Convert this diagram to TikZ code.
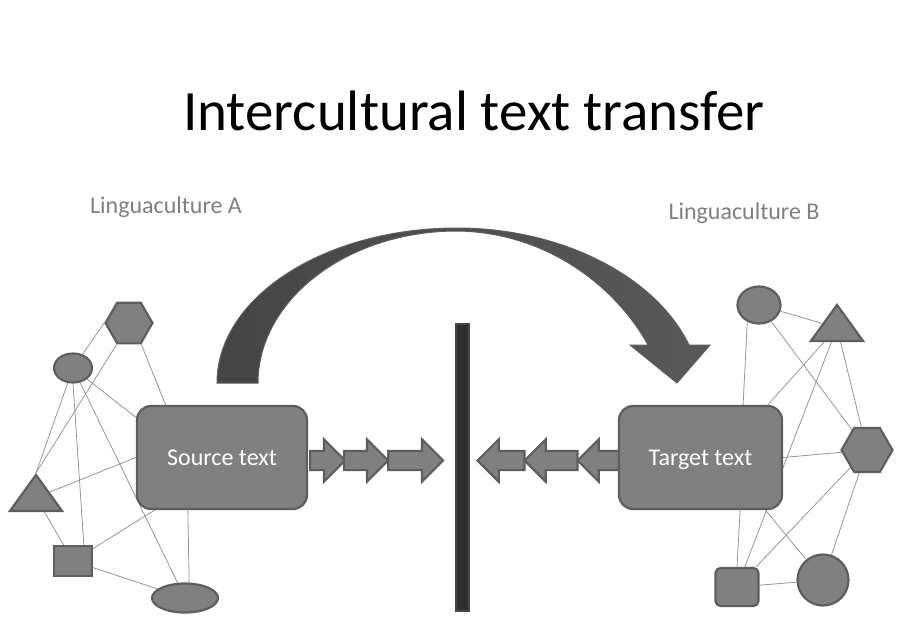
\documentclass[tikz,border=0pt]{standalone}
\usepackage{fontspec}
\setmainfont{Carlito}
\usetikzlibrary{positioning, shapes.geometric, shapes.arrows, backgrounds}
\definecolor{shapefill}{HTML}{808080}
\definecolor{shapeline}{HTML}{5E5E5E}
\definecolor{linkgray}{HTML}{969696}
\definecolor{labelgray}{HTML}{7F7F7F}
\definecolor{bardark}{HTML}{303030}

\begin{document}
\begin{tikzpicture}[
  x=1pt, y=-1pt,
  shp/.style={draw=shapeline, fill=shapefill, line width=2.2pt, inner sep=0pt},
  textbox/.style={shp, rectangle, rounded corners=14pt, minimum height=103pt, text height=15pt, text depth=0pt, text=white, font=\fontsize{24}{28}\selectfont},
  oval/.style={shp, ellipse},
  hexa/.style={shp, regular polygon, regular polygon sides=6},
  tri/.style={shp, isosceles triangle, isosceles triangle apex angle=71, isosceles triangle stretches, shape border rotate=90, minimum width=52pt, minimum height=36pt},
  sq/.style={shp, rectangle},
  fwd/.style={shp, single arrow, single arrow head extend=11.5pt, inner xsep=0pt, inner ysep=8.5pt},
  bwd/.style={fwd, shape border rotate=180},
  lbl/.style={text=labelgray, font=\fontsize{24}{28}\selectfont},
  link/.style={draw=linkgray, line width=0.8pt}
]
  \useasboundingbox (0,0) rectangle (920,627);

  \node[font=\fontsize{57}{60}\selectfont, anchor=base] (title) at (474,130) {Intercultural text transfer};
  \node[lbl] (linga) at (166,207) {Linguaculture A};
  \node[lbl] (lingb) at (744,213) {Linguaculture B};

  % big arrow over the barrier
  \draw[shapeline, line width=1pt, left color=black!73, right color=black!65]
    (217,383) .. controls (217,297) and (325,228) .. (457,228)
    .. controls (560,228) and (655,275) .. (689,345)
    -- (710,345) -- (677,383) -- (630,345) -- (648,345)
    .. controls (615,285) and (545,232) .. (457,231)
    .. controls (347,231) and (258,300) .. (258,383) -- cycle;

  \node[shp, fill=bardark, draw=black!72, minimum width=13pt, minimum height=287pt] (bar) at (462.5,467.5) {};

  % culture A
  \node[hexa, minimum size=47pt] (hexl) at (129,323) {};
  \node[oval, minimum width=38pt, minimum height=29pt] (ovl) at (73,368) {};
  \node[tri, anchor=apex] (tril) at (36,473) {};
  \node[sq, minimum width=38pt, minimum height=30pt] (sql) at (73,561) {};
  \node[oval, minimum width=66pt, minimum height=29pt] (ovb) at (185,598) {};

  % culture B
  \node[oval, minimum width=43pt, minimum height=37pt] (ovr) at (759,305) {};
  \node[tri, anchor=apex] (trir) at (837,303) {};
  \node[hexa, minimum size=51pt] (hexr) at (867,450) {};
  \node[sq, rounded corners=5pt, minimum width=43pt, minimum height=38pt] (sqr) at (737,587) {};
  \node[oval, minimum size=51pt] (circ) at (823,580) {};

  \node[fwd, minimum height=35pt, anchor=tail] (f1) at (309,460.5) {};
  \node[fwd, minimum height=44pt, anchor=tail] (f2) at (343,460.5) {};
  \node[fwd, minimum height=55pt, anchor=tail] (f3) at (387,460.5) {};
  \node[bwd, minimum height=47pt, anchor=tip] (b1) at (476,460.5) {};
  \node[bwd, minimum height=53pt, anchor=tip] (b2) at (523,460.5) {};
  \node[bwd, minimum height=46pt, anchor=tip] (b3) at (576,460.5) {};

  \node[textbox, minimum width=170pt] (src) at (222,457.5) {Source text};
  \node[textbox, minimum width=163pt] (tgt) at (700.5,457.5) {Target text};

  \begin{scope}[on background layer]
    \draw[link] (hexl.180) -- (ovl);
    \draw[link] (hexl.240) -- (tril.apex);
    \draw[link] (hexl.300) -- (src.137);
    \draw[link] (ovl) -- (src.155);
    \draw[link] (ovl) -- (tril.apex);
    \draw[link] (ovl.south) -- (sql.56);
    \draw[link] (ovl) -- (ovb);
    \draw[link] (tril) -- (src.west);
    \draw[link] (tril) -- (sql);
    \draw[link] (sql) -- (src.218);
    \draw[link] (sql) -- (ovb);
    \draw[link] (src.237) -- (ovb.75);

    \draw[link] (ovr) -- (trir);
    \draw[link] (ovr.235) -- (tgt.51);
    \draw[link] (ovr) -- (hexr);
    \draw[link] (trir) -- (tgt.38);
    \draw[link] (trir) -- (sqr);
    \draw[link] (trir) -- (hexr);
    \draw[link] (hexr) -- (tgt.east);
    \draw[link] (hexr) -- (sqr);
    \draw[link] (hexr) -- (circ);
    \draw[link] (tgt.307) -- (sqr.north);
    \draw[link] (tgt.321) -- (circ);
    \draw[link] (sqr) -- (circ);
  \end{scope}
\end{tikzpicture}
\end{document}
